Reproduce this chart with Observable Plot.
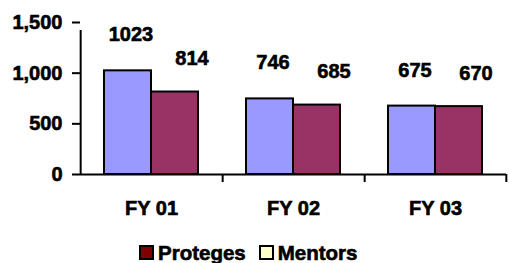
<!DOCTYPE html>
<html>
<head>
<meta charset="utf-8">
<script src="https://cdn.jsdelivr.net/npm/d3@7"></script>
<script src="https://cdn.jsdelivr.net/npm/@observablehq/plot@0.6"></script>
<style>
  html, body { margin: 0; padding: 0; background: #fff; }
  #wrap { position: relative; width: 509px; height: 263px; overflow: hidden; }
  #chart svg text { stroke: #000; stroke-width: 0.6px; }
  #legend { position: absolute; top: 243px; left: 139px; display: flex; align-items: center;
    font-family: "Liberation Sans", Arial, sans-serif; font-weight: bold; font-size: 20.5px; line-height: 19px;
    -webkit-text-stroke: 0.6px #000; }
  .sw { width: 11px; height: 11px; border: 2px solid #000; display: inline-block; margin-right: 4px; }
</style>
</head>
<body>
<div id="wrap"><div id="chart"></div><div id="legend"></div></div>
<script>
const years = ["FY 01", "FY 02", "FY 03"];
const seriesNames = ["Mentors", "Proteges"];
const mentors = [1023, 746, 675];
const proteges = [814, 685, 670];
const yTicks = [0, 500, 1000, 1500];
const barColors = ["#9999FF", "#993366"];
const legendItems = ["Proteges", "Mentors"];
const legendColors = ["#800000", "#FFFFCC"];

const data = years.flatMap((y, i) => [
  {year: y, series: seriesNames[0], value: mentors[i]},
  {year: y, series: seriesNames[1], value: proteges[i]}
]);

const W = 509, H = 242, ML = 80, MR = 3, MT = 22, MB = 68;
const step = (W - ML - MR) / years.length / 3;

const chart = Plot.plot({
  width: W, height: H,
  marginLeft: ML, marginRight: MR, marginTop: MT, marginBottom: MB,
  style: {fontFamily: "'Liberation Sans', Arial, sans-serif", fontWeight: "bold", fontSize: "20px", background: "white", color: "black"},
  fx: {domain: years, padding: 0, label: null, axis: null},
  x: {domain: seriesNames, paddingInner: 0, paddingOuter: 0.5, axis: null},
  y: {domain: [0, 1500], axis: null},
  color: {domain: seriesNames, range: barColors},
  marks: [
    Plot.barY(data, {fx: "year", x: "series", y: "value", fill: "series", stroke: "black", strokeWidth: 2}),
    Plot.text(data.filter(d => d.series === "Mentors"), {fx: "year", x: "series", y: "value", text: d => String(d.value), dy: -36, dx: 3}),
    Plot.text(data.filter(d => d.series === "Proteges"), {fx: "year", x: "series", y: "value", text: d => String(d.value), dy: -33, dx: 17}),
    Plot.ruleY([0], {stroke: "black", strokeWidth: 2}),
    Plot.ruleX([years[0]], {fx: d => d, x: () => "Mentors", y1: 0, y2: 1500, dx: -step, insetBottom: -8, stroke: "black", strokeWidth: 2}),
    Plot.ruleX(years.slice(1), {fx: d => d, x: () => "Mentors", y1: 0, y2: 0, dx: -step, insetBottom: -8, stroke: "black", strokeWidth: 2}),
    Plot.ruleX([years[years.length - 1]], {fx: d => d, x: () => "Proteges", y1: 0, y2: 0, dx: step, insetBottom: -8, stroke: "black", strokeWidth: 2}),
    Plot.axisY({ticks: yTicks, tickFormat: d3.format(","), tickSize: 8, tickPadding: 10, anchor: "left", label: null, strokeWidth: 2}),
    Plot.axisFx({anchor: "bottom", tickSize: 0, tickPadding: 26, label: null})
  ]
});
document.getElementById("chart").appendChild(chart);

const legend = document.getElementById("legend");
legendItems.forEach((name, i) => {
  const item = document.createElement("span");
  item.style.display = "inline-flex";
  item.style.alignItems = "center";
  item.style.marginRight = "13px";
  const sw = document.createElement("span");
  sw.className = "sw";
  sw.style.background = legendColors[i];
  const t = document.createElement("span");
  t.textContent = name;
  item.appendChild(sw);
  item.appendChild(t);
  legend.appendChild(item);
});
</script>
</body>
</html>
